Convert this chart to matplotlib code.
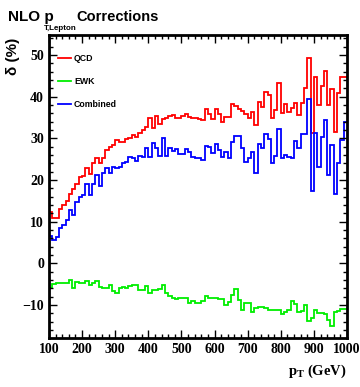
import numpy as np
import matplotlib
matplotlib.use("Agg")
import matplotlib.pyplot as plt

plt.rcParams['mathtext.fontset'] = 'custom'
plt.rcParams['mathtext.rm'] = 'Liberation Serif'
plt.rcParams['mathtext.bf'] = 'Liberation Serif:bold'
plt.rcParams['mathtext.it'] = 'Liberation Serif:italic'

# bin edges (GeV)
bin_edges = np.arange(100, 1001, 10)

qcd = [12.4, 11.0, 11.0, 13.0, 14.0, 15.0, 16.6, 17.8, 19.0, 20.8,
       21.0, 23.0, 21.4, 24.0, 25.4, 24.2, 25.2, 27.2, 28.0, 28.4,
       29.6, 29.2, 29.2, 29.8, 30.2, 30.8, 30.4, 31.2, 32.0, 32.8,
       35.0, 32.6, 35.4, 33.4, 34.6, 34.8, 35.4, 35.6, 35.0, 35.0,
       35.4, 35.8, 35.2, 34.9, 34.8, 34.6, 34.4, 37.0, 35.8, 34.6,
       37.0, 35.8, 34.0, 35.2, 35.2, 38.2, 37.8, 37.0, 36.6, 35.8,
       35.0, 36.4, 33.2, 38.8, 37.6, 41.2, 40.4, 35.0, 36.8, 43.4,
       36.2, 38.2, 36.4, 37.2, 38.4, 35.6, 38.6, 42.2, 49.2, 31.4,
       44.6, 38.0, 42.6, 46.2, 38.0, 41.8, 31.6, 41.0, 44.8, 44.8]

ewk = [-5.8, -5.0, -4.6, -4.6, -4.8, -4.6, -4.0, -6.0, -4.4, -4.6,
       -4.8, -4.2, -5.2, -4.8, -4.2, -5.6, -5.8, -5.8, -5.2, -6.6,
       -7.2, -6.0, -5.6, -5.8, -5.4, -5.2, -5.2, -6.4, -6.4, -5.4,
       -7.2, -6.4, -6.4, -6.2, -5.2, -7.0, -7.8, -8.2, -8.6, -8.4,
       -8.4, -8.2, -9.6, -9.0, -9.6, -9.4, -9.0, -7.8, -8.2, -8.4,
       -8.4, -8.6, -8.6, -10.0, -9.2, -7.6, -6.2, -8.8, -11.2, -9.6,
       -9.6, -11.6, -10.6, -10.4, -10.4, -10.6, -11.2, -11.2, -11.2, -11.2,
       -12.2, -11.6, -11.2, -9.0, -9.8, -11.6, -11.4, -10.0, -13.9, -13.2,
       -11.2, -11.8, -11.8, -12.2, -13.6, -15.0, -11.6, -11.4, -11.0, -11.0]

combined = [6.6, 5.6, 6.4, 8.4, 9.2, 10.4, 12.8, 11.6, 14.8, 16.0,
            16.4, 19.0, 16.4, 19.0, 21.2, 18.6, 21.6, 23.0, 21.8, 23.2,
            22.8, 23.2, 24.0, 24.4, 25.6, 25.2, 24.6, 25.8, 25.6, 27.8,
            25.6, 29.0, 27.6, 25.8, 30.2, 25.8, 27.8, 27.0, 27.4, 26.2,
            26.2, 27.4, 26.8, 25.6, 25.4, 25.2, 24.8, 28.2, 28.0, 26.4,
            28.6, 27.2, 25.6, 26.8, 25.2, 29.2, 30.6, 30.6, 27.6, 24.4,
            25.2, 26.8, 21.8, 28.6, 27.6, 31.0, 29.8, 24.0, 25.8, 32.2,
            25.2, 26.0, 25.6, 25.2, 29.4, 27.6, 31.0, 31.0, 39.4, 17.4,
            31.4, 23.2, 30.4, 34.4, 21.2, 28.4, 16.6, 24.0, 29.6, 34.0]

labels = ["QCD", "EWK", "Combined"]
colors = ["#ff0000", "#00ee00", "#0000ff"]

fig = plt.figure(figsize=(3.6, 3.87), dpi=100)
ax = fig.add_axes([0.136, 0.1266, 0.828, 0.783])

for vals, lab, col in zip([qcd, ewk, combined], labels, colors):
    ax.stairs(vals, bin_edges, color=col, linewidth=1.3, label=lab, baseline=None)

ax.set_xlim(100, 1000)
ax.set_ylim(-17.9, 54.8)
ax.set_xticks(np.arange(100, 1001, 100))
ax.set_xticks(np.arange(100, 1001, 20), minor=True)
ax.set_yticks(np.arange(-10, 51, 10))
ax.set_yticks(np.arange(-16, 55, 2), minor=True)
ax.tick_params(which='both', direction='in', top=True, right=True, width=1.0)
ax.tick_params(which='major', length=6)
ax.tick_params(which='minor', length=3)
for lbl in ax.get_xticklabels() + ax.get_yticklabels():
    lbl.set_family('Liberation Serif')
    lbl.set_fontweight('bold')
    lbl.set_fontsize(10)
for s in ax.spines.values():
    s.set_linewidth(2.0)

ax.set_xlabel(r"$\mathbf{p}_{\mathbf{T}}$ (GeV)", loc='right', family='Liberation Serif',
              fontweight='bold', fontsize=10.5, labelpad=5)

leg = ax.legend(loc='upper left', bbox_to_anchor=(0.03, 0.938), frameon=False,
                prop={'family': 'Liberation Sans', 'weight': 'bold', 'size': 6.3},
                handlelength=1.5, handletextpad=0.35, labelspacing=1.6,
                borderpad=0, borderaxespad=0)

title_font = dict(family='Liberation Sans', fontweight='bold')
fig.text(0.022, 0.946, "NLO p", fontsize=11, **title_font)
fig.text(0.122, 0.922, "T,Lepton", fontsize=5.8, **title_font)
fig.text(0.211, 0.946, "Corrections", fontsize=10.5, **title_font)

fig.text(0.035, 0.855, "δ (%)", rotation=90, ha='center', va='center', fontsize=11,
         family=['Liberation Sans', 'DejaVu Sans'], fontweight='bold')

fig.savefig("out.png", dpi=100)
